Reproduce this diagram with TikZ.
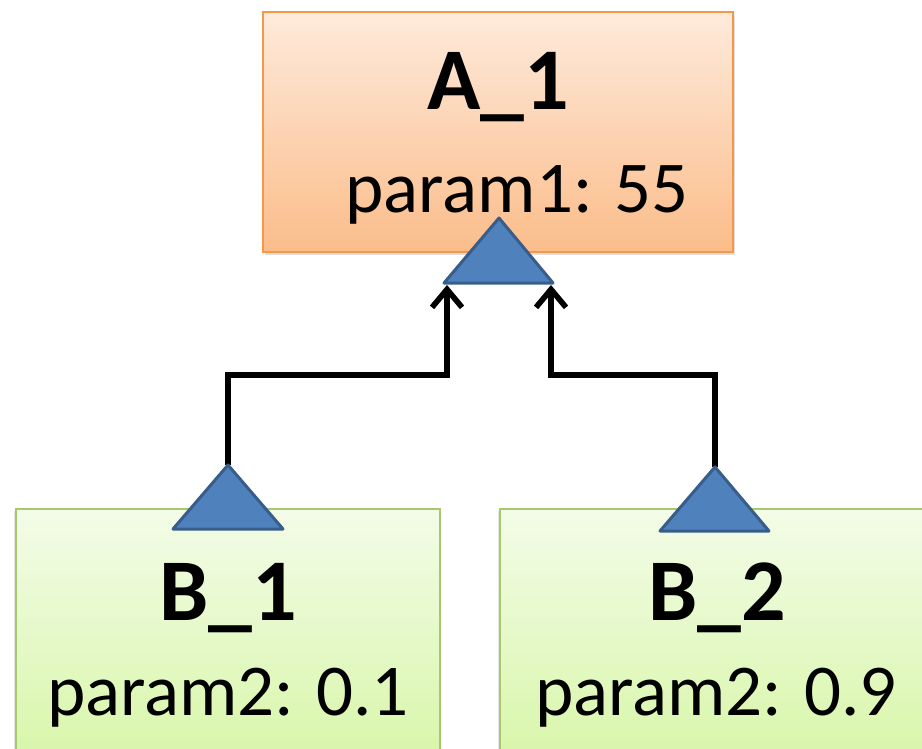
\documentclass[tikz,border=0pt]{standalone}
\usepackage{fontspec}
\setmainfont{Carlito}
\usetikzlibrary{arrows.meta,shadows}

\definecolor{naranjaborde}{HTML}{F79646}
\definecolor{naranjaclaro}{HTML}{FEEADB}
\definecolor{naranjaoscuro}{HTML}{FBBD8A}
\definecolor{verdeborde}{HTML}{A8C96B}
\definecolor{verdeclaro}{HTML}{F3FCE8}
\definecolor{verdeoscuro}{HTML}{D8F6A9}
\definecolor{azulrelleno}{HTML}{4F81BD}
\definecolor{azulborde}{HTML}{385D8A}

\begin{document}
\begin{tikzpicture}[x=0.5pt,y=-0.5pt,
  cajaA/.style={draw=naranjaborde, line width=1pt, top color=naranjaclaro, bottom color=naranjaoscuro,
    inner sep=0pt, drop shadow={opacity=0.25, shadow xshift=1pt, shadow yshift=-1.5pt}},
  cajaB/.style={draw=verdeborde, line width=1pt, top color=verdeclaro, bottom color=verdeoscuro,
    inner sep=0pt, drop shadow={opacity=0.2, shadow xshift=-1pt, shadow yshift=-1pt}},
  titulo/.style={anchor=base, inner sep=0pt, font=\fontsize{44}{52}\selectfont\bfseries},
  parametro/.style={anchor=base, inner sep=0pt, font=\fontsize{36.5}{44}\selectfont},
  triangulo/.style={fill=azulrelleno, draw=azulborde, line width=1.5pt, line join=round},
  conector/.style={line width=2.8pt, line join=miter, -{Straight Barb[length=9pt,width=15pt,line width=2.8pt]}}]
\useasboundingbox (0,0) rectangle (922,749);

% Cajas
\node[cajaA, minimum width=235pt, minimum height=120pt] (A) at (498,132) {};
\node[cajaB, minimum width=212pt, minimum height=126pt] (B1) at (228,635) {};
\node[cajaB, minimum width=225pt, minimum height=126pt] (B2) at (725,635) {};

% Textos
\node[titulo] (tA) at (498,110) {A\_1};
\node[parametro] (pA) at (517,213) {param1: 55};
\node[titulo] (tB1) at (228,620) {B\_1};
\node[parametro] (pB1) at (228,715) {param2: 0.1};
\node[titulo] (tB2) at (717,620) {B\_2};
\node[parametro] (pB2) at (716,715) {param2: 0.9};

% Puntos de los triangulos
\coordinate (Apunta) at (499,218);
\coordinate (B1punta) at (228,465);
\coordinate (B2punta) at (715,467);
\coordinate (Aizq) at (447,285);
\coordinate (Ader) at (551,285);

% Conectores
\draw[conector] (B1punta) -- ++(0,-90) -| (Aizq);
\draw[conector] (B2punta) -- ++(0,-92) -| (Ader);

% Triangulos
\filldraw[triangulo] (Apunta) -- (553,283) -- (444,283) -- cycle;
\filldraw[triangulo] (B1punta) -- (283,529) -- (173,529) -- cycle;
\filldraw[triangulo] (B2punta) -- (769,531) -- (660,531) -- cycle;
\end{tikzpicture}
\end{document}
